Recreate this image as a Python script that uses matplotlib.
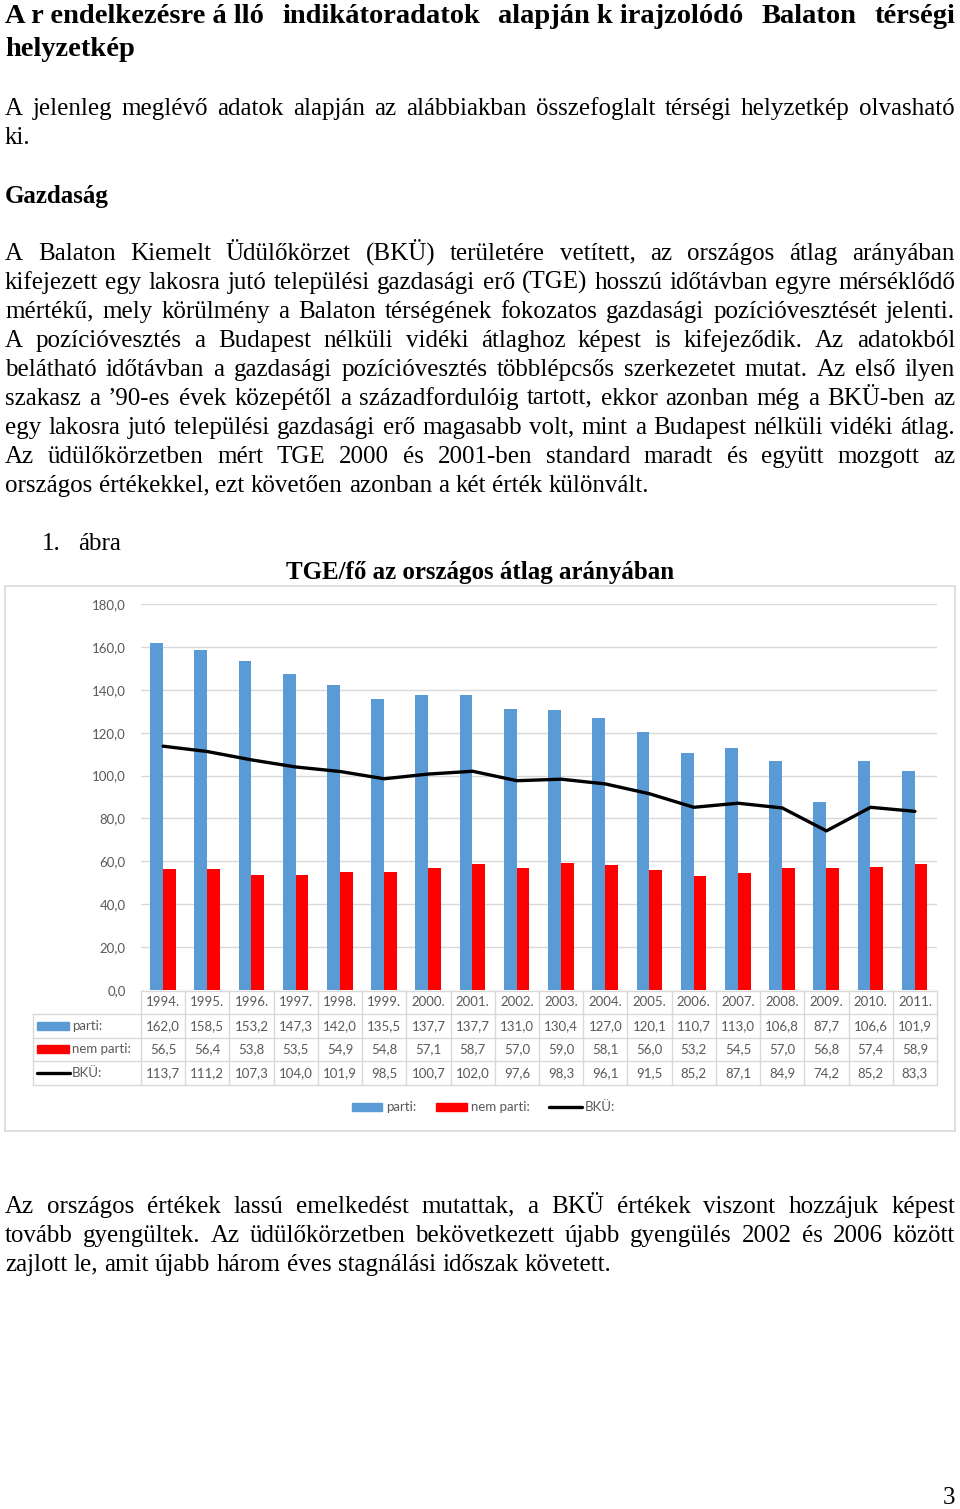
import matplotlib
matplotlib.use('Agg')
import matplotlib.pyplot as plt
from matplotlib.patches import Rectangle

# ============== chart data ==============
years = ['1994.', '1995.', '1996.', '1997.', '1998.', '1999.', '2000.', '2001.', '2002.',
         '2003.', '2004.', '2005.', '2006.', '2007.', '2008.', '2009.', '2010.', '2011.']
parti = [162.0, 158.5, 153.2, 147.3, 142.0, 135.5, 137.7, 137.7, 131.0,
         130.4, 127.0, 120.1, 110.7, 113.0, 106.8, 87.7, 106.6, 101.9]
nem_parti = [56.5, 56.4, 53.8, 53.5, 54.9, 54.8, 57.1, 58.7, 57.0,
             59.0, 58.1, 56.0, 53.2, 54.5, 57.0, 56.8, 57.4, 58.9]
bku = [113.7, 111.2, 107.3, 104.0, 101.9, 98.5, 100.7, 102.0, 97.6,
       98.3, 96.1, 91.5, 85.2, 87.1, 84.9, 74.2, 85.2, 83.3]
y_ticks = [0, 20, 40, 60, 80, 100, 120, 140, 160, 180]
series_names = ['parti:', 'nem parti:', 'BKÜ:']

# ============== page text ==============
heading = ['A r endelkezésre á lló  indikátoradatok  alapján k irajzolódó  Balaton  térségi',
           'helyzetkép']
para1 = ['A jelenleg meglévő adatok alapján az alábbiakban összefoglalt térségi helyzetkép olvasható',
         'ki.']
para2 = ['A Balaton Kiemelt Üdülőkörzet (BKÜ) területére vetített, az országos átlag arányában',
         'kifejezett egy lakosra jutó települési gazdasági erő (TGE) hosszú időtávban egyre mérséklődő',
         'mértékű, mely körülmény a Balaton térségének fokozatos gazdasági pozícióvesztését jelenti.',
         'A pozícióvesztés a Budapest nélküli vidéki átlaghoz képest is kifejeződik. Az adatokból',
         'belátható időtávban a gazdasági pozícióvesztés többlépcsős szerkezetet mutat. Az első ilyen',
         'szakasz a ’90-es évek közepétől a századfordulóig tartott, ekkor azonban még a BKÜ-ben az',
         'egy lakosra jutó települési gazdasági erő magasabb volt, mint a Budapest nélküli vidéki átlag.',
         'Az üdülőkörzetben mért TGE 2000 és 2001-ben standard maradt és együtt mozgott az',
         'országos értékekkel, ezt követően azonban a két érték különvált.']
para3 = ['Az országos értékek lassú emelkedést mutattak, a BKÜ értékek viszont hozzájuk képest',
         'tovább gyengültek. Az üdülőkörzetben bekövetkezett újabb gyengülés 2002 és 2006 között',
         'zajlott le, amit újabb három éves stagnálási időszak követett.']

SERIF = 'Liberation Serif'
SANS = 'Lato'
BLUE = '#5b9bd5'
RED = '#ff0000'
GRID = '#d9d9d9'
LABEL = '#595959'

fig = plt.figure(figsize=(9.6, 15.09), dpi=100)
page = fig.add_axes([0, 0, 1, 1])
page.set_xlim(0, 960)
page.set_ylim(1509, 0)
page.axis('off')
renderer = fig.canvas.get_renderer()


def putLine(text, yc, size=18, bold=False, justify=True, x0=5, x1=955, sep=' '):
    words = text.split(sep)
    base = yc + size * 0.42
    objs = [page.text(0, base, w, fontsize=size, family=SERIF,
                      fontweight='bold' if bold else 'normal', va='baseline', ha='left')
            for w in words]
    widths = [o.get_window_extent(renderer).width for o in objs]
    if justify and len(words) > 1:
        gap = (x1 - x0 - sum(widths)) / (len(words) - 1)
    else:
        gap = size * 100 / 72 * 0.25
    x = x0
    for o, w in zip(objs, widths):
        o.set_x(x)
        x += w + gap


def putParagraph(lines, y0, step=29, size=18):
    for i, line in enumerate(lines):
        putLine(line, y0 + i * step, size=size, justify=(i < len(lines) - 1))


putLine(heading[0], 14, size=20.5, bold=True, sep='  ')
putLine(heading[1], 47, size=20.5, bold=True, justify=False)
putParagraph(para1, 107)
putLine('Gazdaság', 195, bold=True, justify=False)
putParagraph(para2, 252)
putParagraph(para3, 1205)

page.text(42, 543 + 7.5, '1.', fontsize=18, family=SERIF, va='baseline')
page.text(78, 543 + 7.5, 'ábra', fontsize=18, family=SERIF, va='baseline')
page.text(480, 572 + 7, 'TGE/fő az országos átlag arányában', fontsize=18, family=SERIF,
          fontweight='bold', ha='center', va='baseline')
page.text(955, 1497 + 7.5, '3', fontsize=18, family=SERIF, ha='right', va='baseline')

# chart frame
page.add_patch(Rectangle((4.5, 585.5), 950, 545.5, fill=False, edgecolor=GRID, lw=1.2))

# ============== chart ==============
ax = fig.add_axes([141 / 960, 1 - 990 / 1509, 796 / 960, 386 / 1509])
xs = list(range(len(years)))
ax.bar([x - 0.15 for x in xs], parti, width=0.29, color=BLUE, zorder=2)
ax.bar([x + 0.14 for x in xs], nem_parti, width=0.29, color=RED, zorder=2)
ax.plot(xs, bku, color='black', lw=2.4, solid_capstyle='round', solid_joinstyle='round', zorder=3)
ax.set_xlim(-0.5, len(years) - 0.5)
ax.set_ylim(0, 180)
ax.set_yticks(y_ticks)
ax.set_yticklabels([f'{v:.1f}'.replace('.', ',') for v in y_ticks], color=LABEL,
                   fontsize=9.5, family=SANS)
ax.tick_params(axis='y', length=0, pad=11)
ax.set_xticks([])
ax.grid(axis='y', color=GRID, lw=1, zorder=0)
for s in ax.spines.values():
    s.set_visible(False)


def fmt(v):
    return f'{v:.1f}'.replace('.', ',')


# data table under the chart, aligned to the category axis
colX = [ax.transData.transform((x - 0.5, 0))[0] for x in range(len(years) + 1)]
rowY = [991, 1014, 1037.5, 1061, 1085]
headLeft = 33
page.plot([colX[0], colX[-1]], [rowY[0], rowY[0]], color=GRID, lw=1)
for y in rowY[1:]:
    page.plot([headLeft, colX[-1]], [y, y], color=GRID, lw=1)
page.plot([headLeft, headLeft], [rowY[1], rowY[-1]], color=GRID, lw=1)
for x in colX:
    page.plot([x, x], [rowY[0], rowY[-1]], color=GRID, lw=1)

rows = [years, [fmt(v) for v in parti], [fmt(v) for v in nem_parti], [fmt(v) for v in bku]]
for r, vals in enumerate(rows):
    yc = (rowY[r] + rowY[r + 1]) / 2
    for c, v in enumerate(vals):
        page.text((colX[c] + colX[c + 1]) / 2, yc, v, fontsize=9.5, family=SANS,
                  color=LABEL, ha='center', va='center')

# row keys
for r, (name, col) in enumerate(zip(series_names, [BLUE, RED, 'black'])):
    yc = (rowY[r + 1] + rowY[r + 2]) / 2
    if col == 'black':
        page.plot([37, 70], [yc, yc], color='black', lw=2.4, solid_capstyle='round')
    else:
        page.add_patch(Rectangle((37, yc - 4), 32, 8, color=col))
    page.text(72, yc, name, fontsize=9.5, family=SANS, color=LABEL, ha='left', va='center')

# legend below
ly = 1107
page.add_patch(Rectangle((352, ly - 4), 30, 8, color=BLUE))
page.text(386, ly, series_names[0], fontsize=9.5, family=SANS, color=LABEL, va='center')
page.add_patch(Rectangle((436, ly - 4), 31, 8, color=RED))
page.text(471, ly, series_names[1], fontsize=9.5, family=SANS, color=LABEL, va='center')
page.plot([549, 582], [ly, ly], color='black', lw=2.4, solid_capstyle='round')
page.text(585, ly, series_names[2], fontsize=9.5, family=SANS, color=LABEL, va='center')

fig.savefig('out.png', dpi=100)
